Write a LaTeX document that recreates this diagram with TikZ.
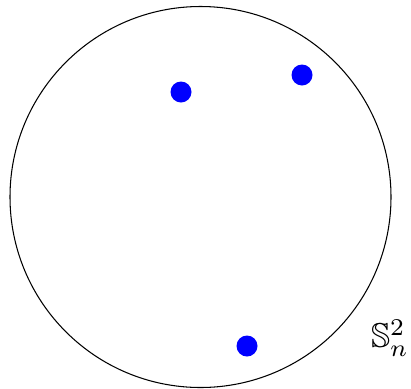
\documentclass[tikz,border=0pt]{standalone}
\usepackage{amsmath,amssymb}

\begin{document}
\begin{tikzpicture}[x=0.5mm,y=-0.5mm]
  \useasboundingbox (0,0) rectangle (411,388);
  \tikzset{pt/.style={fill=blue,draw=none}}

  % The sphere and its points.
  \draw[line width=1.5pt] (200.5,197) circle[radius=190.5];
  \fill[pt] (181,92) circle[radius=10.5];
  \fill[pt] (302,75) circle[radius=10.5];
  \fill[pt] (247,346) circle[radius=10.5];

  \node[scale=4.9,inner sep=0] (lab) at (390,338) {$\mathbb{S}^2_n$};
\end{tikzpicture}
\end{document}
